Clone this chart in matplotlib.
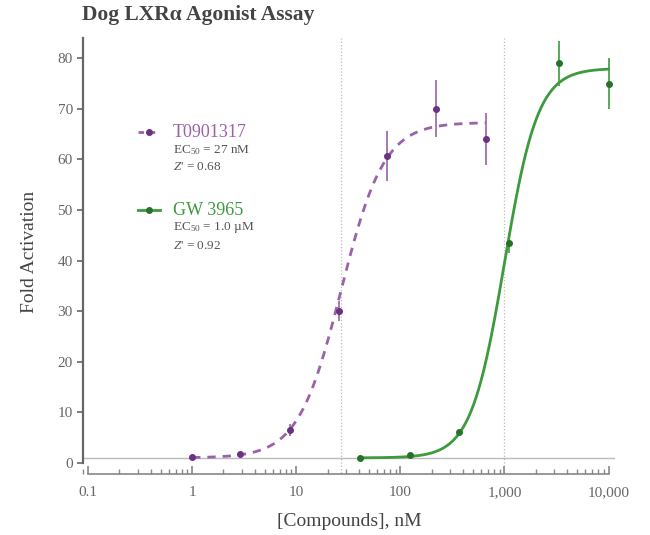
import numpy as np
import matplotlib
matplotlib.use('Agg')
import matplotlib.pyplot as plt
from matplotlib.ticker import FixedLocator, NullFormatter

plt.rcParams['font.family'] = ['Liberation Serif', 'DejaVu Serif']
plt.rcParams['mathtext.fontset'] = 'custom'
plt.rcParams['mathtext.rm'] = 'Liberation Serif'
plt.rcParams['mathtext.it'] = 'Liberation Serif:italic'

# T0901317 data (nM, fold activation, error)
t_conc = [1, 2.9, 8.7, 26, 74, 222, 667]
t_fold = [1.2, 1.8, 6.5, 30, 60.7, 70, 64]
t_err = [0.3, 0.4, 1.2, 2.0, 5.0, 5.6, 5.2]
# 4PL fit: bottom, top, EC50, hill
t_fit = [1.0, 67.3, 27, 2.1]

# GW 3965 data
g_conc = [41, 123, 370, 1111, 3333, 10000]
g_fold = [1.0, 1.6, 6.1, 43.4, 79, 75]
g_err = [0.2, 0.3, 0.5, 2.0, 4.4, 5.0]
g_fit = [1.0, 78.0, 1000, 2.7]

xticks = [0.1, 1, 10, 100, 1000, 10000]
xticklabels = ['0.1', '1', '10', '100', '1,000', '10,000']
yticks = [0, 10, 20, 30, 40, 50, 60, 70, 80]

purple = '#9a62a8'
purple_dark = '#6b3283'
green = '#3d9a3d'
green_dark = '#27722a'
grey = '#666666'


def four_pl(x, bottom, top, ec50, hill):
    return bottom + (top - bottom) / (1 + (ec50 / x) ** hill)


fig = plt.figure(figsize=(6.5, 5.35), dpi=100)
ax = fig.add_axes([0.128, 0.130, 0.818, 0.799])

# reference lines
ax.axhline(1.0, color='#bbbbbb', lw=1.0, zorder=1)
ax.plot([27, 27], [-2, 84], color='#bbbbbb', lw=0.9, ls=':', zorder=1, clip_on=False)
ax.plot([1000, 1000], [-2, 84], color='#bbbbbb', lw=0.9, ls=':', zorder=1, clip_on=False)

# fits
xs = np.logspace(np.log10(t_conc[0]), np.log10(t_conc[-1]), 200)
ax.plot(xs, four_pl(xs, *t_fit), color=purple, lw=2.0, ls=(0, (3, 2.5)), zorder=3)
xs = np.logspace(np.log10(g_conc[0]), np.log10(g_conc[-1]), 200)
ax.plot(xs, four_pl(xs, *g_fit), color=green, lw=2.0, zorder=3)

# data points
ax.errorbar(t_conc, t_fold, yerr=t_err, fmt='o', ms=4, color=purple_dark,
            ecolor=purple, elinewidth=1.2, capsize=0, zorder=4)
ax.errorbar(g_conc, g_fold, yerr=g_err, fmt='o', ms=4, color=green_dark,
            ecolor=green, elinewidth=1.2, capsize=0, zorder=4)

ax.set_xscale('log')
ax.set_xlim(0.09, 11500)
ax.set_ylim(-0.5, 84)

ax.xaxis.set_major_locator(FixedLocator(xticks))
ax.set_xticklabels(xticklabels)
ax.xaxis.set_minor_formatter(NullFormatter())
ax.set_yticks(yticks)

for s in ['top', 'right']:
    ax.spines[s].set_visible(False)
ax.spines['bottom'].set_position(('outward', 6))
ax.spines['bottom'].set_bounds(0.1, 10000)
ax.spines['left'].set_bounds(0, 84)
ax.spines['left'].set_color(grey)
ax.spines['left'].set_linewidth(1.6)
ax.spines['bottom'].set_color('#888888')
ax.spines['bottom'].set_linewidth(1.2)

ax.tick_params(axis='x', which='major', direction='in', length=6, width=1.2,
               colors='#888888', labelsize=11, pad=9)
ax.tick_params(axis='x', which='minor', direction='in', length=3.5, width=1.0, colors='#888888')
ax.tick_params(axis='y', direction='out', length=4, width=1.2, colors=grey, labelsize=11)
for lab in ax.get_xticklabels() + ax.get_yticklabels():
    lab.set_color('#666666')

ax.set_xlabel('[Compounds], nM', fontsize=14, color='#444444', labelpad=10)
ax.set_ylabel('Fold Activation', fontsize=14, color='#444444', labelpad=14)
fig.text(0.126, 0.962, 'Dog LXR\u03b1 Agonist Assay', fontsize=15.5, color='#444444',
         fontweight='bold')

# legend block
lx0, lx1, tx = 0.212, 0.246, 0.266
fig.add_artist(plt.Line2D([lx0, lx1], [0.753, 0.753], color=purple, lw=2, ls=(0, (2, 2))))
fig.add_artist(plt.Line2D([0.229], [0.753], marker='o', ms=4, color=purple_dark))
fig.text(tx, 0.753, 'T0901317', color=purple, fontsize=13, va='center')
fig.text(tx, 0.719, 'EC$_{50}$ = 27 nM', color='#555555', fontsize=9.5, va='center')
fig.text(tx, 0.687, "$Z$' = 0.68", color='#555555', fontsize=9.5, va='center')

fig.add_artist(plt.Line2D([lx0, lx1], [0.607, 0.607], color=green, lw=2))
fig.add_artist(plt.Line2D([0.229], [0.607], marker='o', ms=4, color=green_dark))
fig.text(tx, 0.607, 'GW 3965', color=green, fontsize=13, va='center')
fig.text(tx, 0.574, 'EC$_{50}$ = 1.0 \u00b5M', color='#555555', fontsize=9.5, va='center')
fig.text(tx, 0.540, "$Z$' = 0.92", color='#555555', fontsize=9.5, va='center')

fig.savefig('out.png', dpi=100)
